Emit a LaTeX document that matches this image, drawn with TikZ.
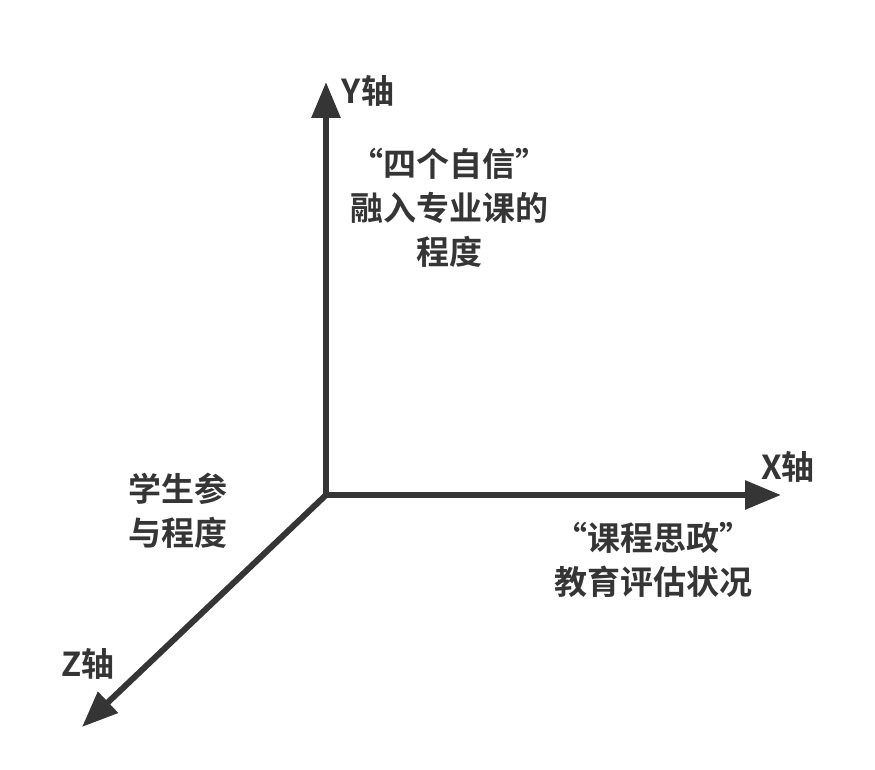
\documentclass[tikz,border=0pt]{standalone}
\usepackage{fontspec}
\newfontfamily\cjk{Noto Sans CJK SC}[BoldFont={Noto Sans CJK SC Bold}]
\usetikzlibrary{arrows.meta}
\definecolor{ink}{HTML}{353535}
\begin{document}
\begin{tikzpicture}[x=1pt,y=-1pt,
  axis/.style={draw=ink,line width=6pt,-{Triangle[length=36pt,width=28pt]}},
  lbl/.style={text=ink,font=\cjk\bfseries\fontsize{33}{44}\selectfont,align=center,inner sep=0pt,anchor=center}]
\useasboundingbox (0,0) rectangle (875,770);
\coordinate (O) at (326,495);
\coordinate (Yend) at (326,82);
\coordinate (Xend) at (781,495);
\coordinate (Zend) at (82,727);
\draw[axis] (O) -- (Yend);
\draw[axis] (O) -- (Xend);
\draw[axis] (O) -- (Zend);
\node[lbl] (ylab) at (368,91) {Y轴};
\node[lbl] (xlab) at (788,467) {X轴};
\node[lbl] (zlab) at (88,664) {Z轴};
\node[lbl] (ytext) at (449,208) {“四个自信”\\融入专业课的\\程度};
\node[lbl] (ztext) at (178,511) {学生参\\与程度};
\node[lbl] (xtext) at (653,560) {“课程思政”\\教育评估状况};
\end{tikzpicture}
\end{document}
